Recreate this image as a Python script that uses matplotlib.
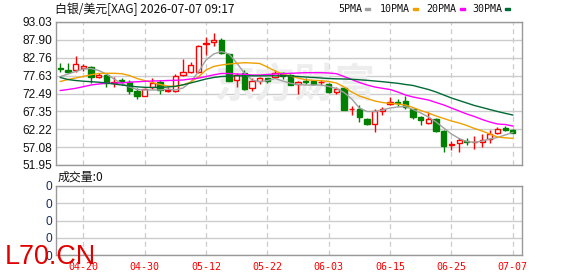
#!/usr/bin/env python3
"""
XAG/USD daily K-line chart with moving averages and an (empty) volume panel.
"""

import matplotlib
matplotlib.use("Agg")
import matplotlib.pyplot as plt
from matplotlib.patches import Rectangle
import numpy as np
import pandas as pd

# Trading days shown on the chart
dates = pd.bdate_range("2026-04-15", "2026-07-07").strftime("%m-%d").tolist()

# OHLC
opens = [79.85, 79.24, 79.15, 79.73, 80.02, 77.14, 77.80, 75.59, 76.37, 75.71,
         73.30, 71.69, 74.44, 75.88, 73.35, 73.21, 77.80, 78.75, 78.75, 86.57,
         87.20, 87.86, 83.75, 76.28, 78.29, 74.00, 76.17, 76.86, 77.32, 78.24,
         77.80, 75.13, 75.94, 76.00, 75.65, 75.22, 72.92, 73.98, 67.95, 68.12,
         65.25, 63.64, 67.55, 69.39, 70.05, 70.34, 68.04, 65.83, 63.93, 65.16,
         61.80, 57.61, 58.18, 58.85, 58.47, 58.56, 59.42, 61.23, 62.58, 62.09]
highs = [81.17, 81.17, 83.26, 80.96, 80.39, 78.29, 78.09, 77.23, 76.86, 76.37,
         73.98, 74.07, 77.03, 76.37, 74.36, 78.09, 82.31, 81.45, 86.28, 88.63,
         89.78, 88.52, 83.84, 78.47, 79.24, 76.94, 77.09, 77.03, 79.10, 78.67,
         78.09, 76.17, 76.86, 76.37, 76.37, 75.42, 74.27, 74.07, 69.00, 69.19,
         65.31, 67.95, 68.53, 71.40, 70.91, 71.77, 68.18, 66.03, 67.18, 65.37,
         62.00, 58.93, 59.62, 59.62, 60.28, 60.77, 62.00, 62.78, 63.15, 62.38]
lows = [78.75, 78.47, 78.75, 79.04, 75.59, 77.03, 74.44, 74.27, 74.93, 72.49,
        71.00, 71.63, 73.70, 72.35, 72.78, 72.92, 77.66, 78.29, 78.52, 83.55,
        86.14, 83.75, 76.00, 74.27, 73.50, 73.12, 75.22, 75.51, 76.86, 76.66,
        74.79, 72.26, 75.13, 74.85, 74.93, 72.63, 72.43, 67.61, 66.31, 64.39,
        63.58, 61.52, 66.31, 69.19, 68.99, 68.04, 65.25, 63.53, 63.87, 61.34,
        55.60, 56.26, 55.68, 57.61, 56.63, 57.04, 58.36, 60.77, 61.63, 61.05]
closes = [79.40, 78.75, 80.88, 80.39, 77.32, 77.80, 75.42, 75.79, 75.79, 73.30,
          71.69, 73.87, 75.59, 73.50, 73.50, 77.52, 78.75, 80.68, 86.22, 87.08,
          87.86, 84.04, 76.17, 77.80, 73.70, 76.08, 76.86, 76.08, 78.47, 77.52,
          75.02, 75.71, 75.65, 75.13, 75.79, 72.83, 73.87, 67.75, 68.12, 65.65,
          63.64, 67.46, 68.12, 70.05, 69.85, 68.53, 65.83, 64.88, 65.16, 61.63,
          57.50, 58.07, 59.13, 58.47, 58.64, 59.13, 60.77, 62.29, 62.00, 61.23]

# Moving averages
ma5 = [77.32, 78.09, 78.81, 79.53, 79.67, 79.10, 78.09, 76.66, 75.42, 74.36,
       73.64, 73.50, 73.50, 73.50, 73.78, 73.50, 74.07, 75.79, 78.67, 82.11,
       83.84, 84.56, 83.84, 81.25, 78.38, 76.37, 75.88, 76.22, 76.80, 76.08,
       75.42, 75.08, 74.93, 74.93, 74.93, 74.50, 73.93, 72.78, 70.91, 68.32,
       67.32, 67.32, 67.75, 68.32, 68.61, 68.76, 67.89, 66.89, 65.74, 64.30,
       62.58, 60.86, 59.56, 58.70, 58.47, 58.84, 59.42, 59.85, 60.57, 61.29]
ma10 = [75.94, 76.51, 76.94, 77.37, 77.89, 78.24, 78.29, 78.29, 78.18, 77.66,
        76.80, 76.22, 75.65, 75.08, 74.64, 74.50, 74.93, 75.79, 77.23, 79.24,
        80.25, 80.68, 80.96, 81.17, 81.34, 81.25, 81.11, 80.10, 78.95, 78.09,
        77.52, 76.94, 76.43, 76.28, 76.17, 75.94, 75.51, 74.36, 72.92, 71.77,
        71.05, 70.34, 69.90, 69.67, 69.47, 69.19, 68.47, 67.61, 66.89, 66.03,
        65.31, 64.59, 64.02, 63.30, 62.44, 61.72, 60.86, 59.99, 59.76, 59.62]
ma20 = [73.35, 73.64, 73.98, 74.44, 74.93, 75.22, 75.42, 75.45, 75.56, 75.74,
        75.85, 75.99, 76.08, 76.14, 76.22, 76.28, 76.37, 76.66, 76.89, 77.37,
        77.86, 78.24, 78.24, 78.09, 78.01, 77.80, 77.80, 77.95, 78.09, 78.18,
        78.29, 78.38, 78.47, 78.47, 78.47, 78.38, 78.18, 77.37, 76.51, 75.65,
        74.93, 74.36, 73.98, 73.64, 72.92, 72.06, 71.48, 71.05, 70.62, 69.90,
        69.19, 68.32, 67.46, 66.60, 65.88, 65.02, 64.30, 63.73, 63.58, 63.15]
ma30 = [77.09, 76.51, 76.22, 76.02, 75.88, 75.74, 75.51, 75.22, 74.93, 74.64,
        74.41, 74.27, 74.21, 74.27, 74.36, 74.56, 74.99, 75.51, 76.08, 76.66,
        77.09, 77.37, 77.46, 77.57, 77.57, 77.57, 77.57, 77.57, 77.57, 77.57,
        77.57, 77.37, 77.23, 77.09, 76.94, 76.80, 76.71, 76.66, 76.57, 76.43,
        76.28, 76.08, 75.88, 75.65, 75.42, 75.08, 74.79, 74.21, 73.64, 72.92,
        72.06, 71.20, 70.48, 69.76, 69.04, 68.47, 67.89, 67.32, 66.80, 66.31]

volumes = [0] * len(dates)

price_ticks = [51.95, 57.08, 62.22, 67.35, 72.49, 77.63, 82.76, 87.90, 93.03]
price_tick_labels = ["51.95", "57.08", "62.22", "67.35", "72.49",
                     "77.63", "82.76", "87.90", "93.03"]
vol_ticks = [0, 1, 2, 3, 4]
vol_tick_labels = ["0", "0", "0", "0", "0"]
date_tick_labels = ["04-20", "04-30", "05-12", "05-22",
                    "06-03", "06-15", "06-25", "07-07"]

ma_names = ["5PMA", "10PMA", "20PMA", "30PMA"]
ma_colors = ["#a0a0a0", "#f0a000", "#ff00ff", "#006a34"]

UP = "#ff0000"
DOWN = "#008000"
GRID = "#cccccc"
BORDER = "#999999"

W, H = 578, 276


def fx(px):
    return px / W


def fy(py):
    return 1 - py / H


def main():
    fig = plt.figure(figsize=(W / 100, H / 100), dpi=100)
    ax = fig.add_axes([fx(56), fy(165), fx(466), 143 / H])
    axv = fig.add_axes([fx(56), fy(255), fx(466), 69 / H])

    x = np.arange(len(dates))
    tick_pos = [dates.index(d) for d in date_tick_labels]

    for a in (ax, axv):
        a.set_xlim(-0.56, 60.2)
        for s in a.spines.values():
            s.set_color(BORDER)
            s.set_linewidth(1.0)
        for t in tick_pos:
            a.axvline(t, color=GRID, lw=0.9, ls=(0, (4, 3)), zorder=0.6)
        a.tick_params(length=0)

    # --- price panel ---
    ax.set_ylim(price_ticks[0], price_ticks[-1])
    ax.set_yticks(price_ticks)
    ax.set_yticklabels(price_tick_labels, fontfamily="Liberation Sans",
                       fontsize=8.6, color="#111111")
    ax.tick_params(axis="y", pad=2.5)
    ax.set_xticks([])
    ax.grid(axis="y", color=GRID, lw=1.0, zorder=0.5)
    ax.set_axisbelow(True)

    ax.text(0.513, 0.55, "东方财富", transform=ax.transAxes, ha="center",
            va="center", fontsize=29, fontweight="bold", color="#ededed",
            fontfamily="Noto Sans CJK SC", zorder=0.7)

    o = np.array(opens)
    c = np.array(closes)
    up = c >= o
    colors = np.where(up, UP, DOWN)
    ax.vlines(x, lows, highs, colors=colors, lw=1.0, zorder=2)
    body_h = np.maximum(np.abs(c - o), 0.08)
    ax.bar(x, body_h, bottom=np.minimum(o, c), width=0.68,
           color=np.where(up, "white", DOWN), edgecolor=colors,
           linewidth=1.0, zorder=3)

    for ma, col in zip([ma5, ma10, ma20, ma30], ma_colors):
        ax.plot(x, ma, color=col, lw=1.0, zorder=4)

    # --- volume panel ---
    axv.set_ylim(vol_ticks[0], vol_ticks[-1])
    axv.set_yticks(vol_ticks)
    axv.set_yticklabels(vol_tick_labels, fontfamily="Liberation Sans",
                        fontsize=8.6, color="#1a2a5a")
    axv.tick_params(axis="y", pad=2.5)
    axv.grid(axis="y", color=GRID, lw=1.0, zorder=0.5)
    axv.bar(x, volumes, width=0.68, color=DOWN)
    axv.set_xticks(tick_pos)
    axv.set_xticklabels(date_tick_labels, color="#ff0000",
                        fontfamily="DejaVu Sans Mono", fontsize=7.2)
    axv.tick_params(axis="x", pad=5)

    # --- header texts and legend ---
    fig.text(fx(55), fy(9), "白银/美元[XAG] 2026-07-07 09:17", va="center",
             fontfamily="Noto Sans CJK SC", fontsize=8.6, color="#111111")
    fig.text(fx(58), fy(177), "成交量:0", va="center",
             fontfamily="Noto Sans CJK SC", fontsize=8.6, color="#111111")

    label_x = [338, 380, 426, 472]
    swatch_x = [365, 413, 460, 505]
    for name, col, lx, sx in zip(ma_names, ma_colors, label_x, swatch_x):
        fig.text(fx(lx), fy(9), name, va="center", fontfamily="DejaVu Sans Mono",
                 fontsize=7.2, color="#111111")
        fig.patches.append(Rectangle((fx(sx), fy(10)), fx(5), 2 / H,
                                     transform=fig.transFigure, color=col))

    fig.text(fx(5), fy(264), "L70.CN", fontfamily="Liberation Sans",
             fontsize=19.4, color="#e00000", va="baseline", zorder=10)

    fig.savefig("out.png", dpi=100)
    print("saved out.png")


if __name__ == "__main__":
    main()
